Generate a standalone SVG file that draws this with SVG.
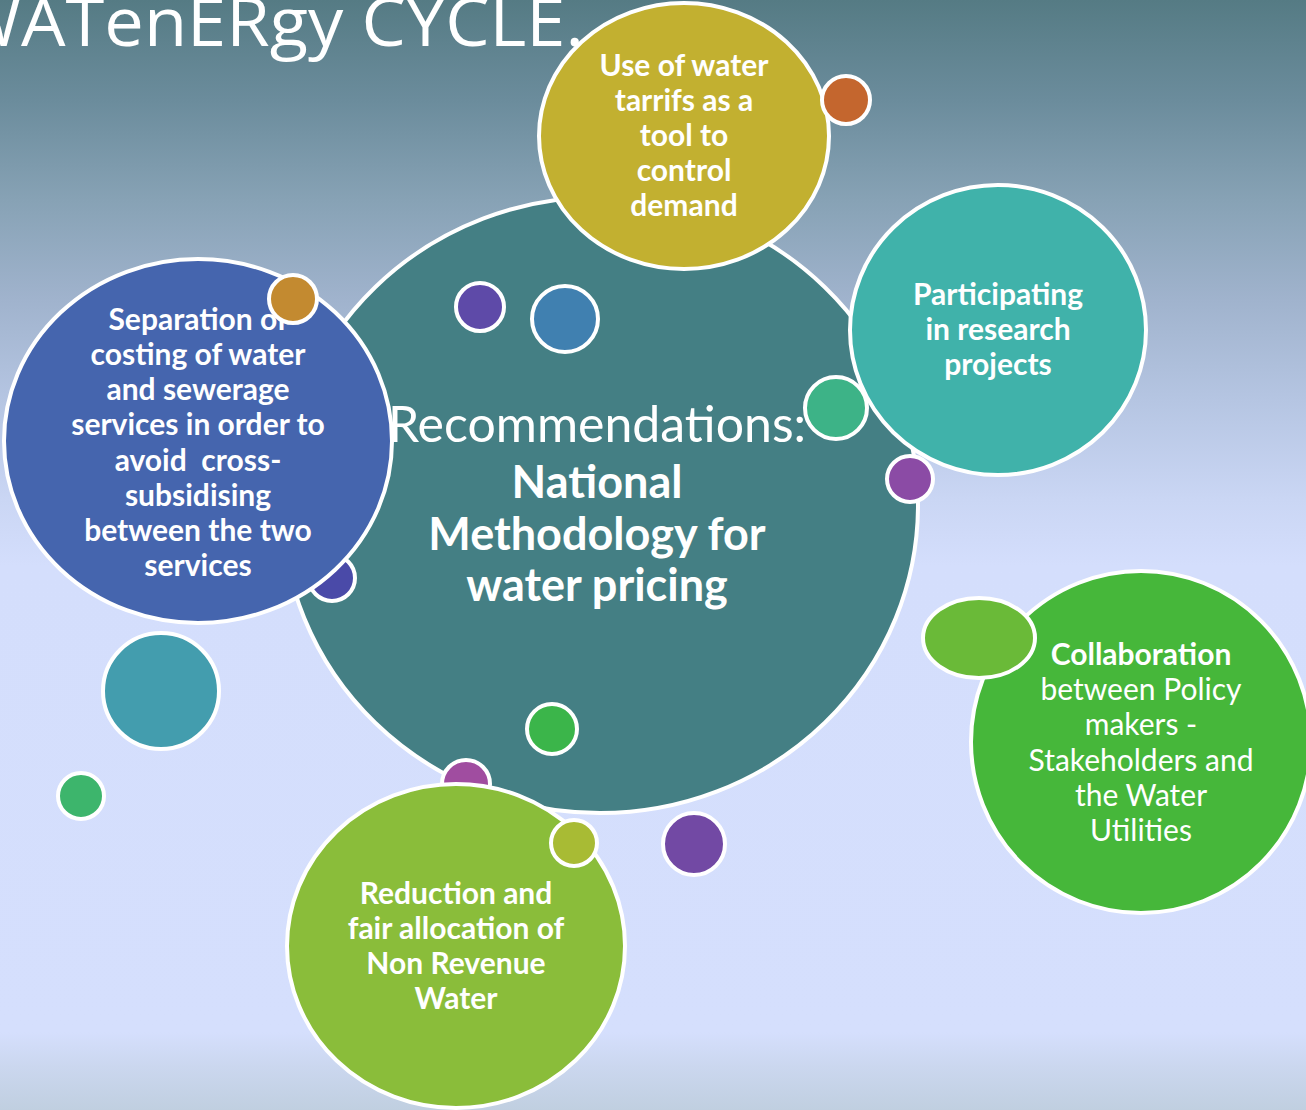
<svg xmlns="http://www.w3.org/2000/svg" width="1306" height="1110" viewBox="0 0 1306 1110">
  <defs>
    <linearGradient id="bg" x1="0" y1="0" x2="0" y2="1110" gradientUnits="userSpaceOnUse">
      <stop offset="0" stop-color="#557b84"/>
      <stop offset="0.09" stop-color="#6b8c9c"/>
      <stop offset="0.18" stop-color="#87a2b5"/>
      <stop offset="0.27" stop-color="#a0b3cd"/>
      <stop offset="0.36" stop-color="#b5c5e2"/>
      <stop offset="0.45" stop-color="#cad6f4"/>
      <stop offset="0.51" stop-color="#d4defc"/>
      <stop offset="0.93" stop-color="#d5dffd"/>
      <stop offset="0.96" stop-color="#cbd7ef"/>
      <stop offset="1" stop-color="#c0cfe0"/>
    </linearGradient>
  </defs>
  <style>
    .bub { stroke: #ffffff; stroke-width: 4; }
    .lbl { font-family: Lato, "Open Sans", "Liberation Sans", sans-serif; font-size: 30px; font-weight: bold; fill: #ffffff; text-anchor: middle; }
    .reg { font-weight: normal; }
    .title { font-family: "Open Sans", Lato, "Liberation Sans", sans-serif; font-size: 68px; fill: #ffffff; }
    .big { font-family: Lato, "Open Sans", "Liberation Sans", sans-serif; fill: #ffffff; text-anchor: middle; }
  </style>

  <rect x="0" y="0" width="1306" height="1110" fill="url(#bg)"/>

  <text class="title" x="-44" y="46" textLength="628" lengthAdjust="spacingAndGlyphs">WATenERgy CYCLE.</text>

  <!-- central node -->
  <g id="center">
    <ellipse class="bub" cx="600" cy="505" rx="318" ry="308" fill="#447f84"/>
    <text class="big" x="597" y="442" font-size="50">Recommendations:</text>
    <text class="big" x="597" y="498" font-size="45" font-weight="bold">National</text>
    <text class="big" x="597" y="550" font-size="45" font-weight="bold">Methodology for</text>
    <text class="big" x="597" y="601" font-size="45" font-weight="bold">water pricing</text>
  </g>

  <!-- decorative dots on the central node -->
  <g id="dots-center">
    <circle class="bub" cx="480" cy="307" r="24" fill="#5e4aa8"/>
    <circle class="bub" cx="565" cy="319" r="33" fill="#4080b0"/>
    <circle class="bub" cx="332" cy="578" r="23" fill="#4a4aa8"/>
    <circle class="bub" cx="552" cy="729" r="25" fill="#3bb54a"/>
    <circle class="bub" cx="466" cy="784" r="24" fill="#a04da0"/>
  </g>

  <g id="tariffs">
    <ellipse class="bub" cx="684" cy="136" rx="145" ry="133" fill="#c2b030"/>
    <text class="lbl" x="684" y="76">Use of water</text>
    <text class="lbl" x="684" y="111">tarrifs as a</text>
    <text class="lbl" x="684" y="146">tool to</text>
    <text class="lbl" x="684" y="181">control</text>
    <text class="lbl" x="684" y="216">demand</text>
    <circle class="bub" cx="846" cy="100" r="24" fill="#c4662e"/>
  </g>

  <g id="research">
    <ellipse class="bub" cx="998" cy="330" rx="148" ry="145" fill="#40b2aa"/>
    <text class="lbl" x="998" y="305">Participating</text>
    <text class="lbl" x="998" y="340">in research</text>
    <text class="lbl" x="998" y="375">projects</text>
    <circle class="bub" cx="836" cy="408" r="31" fill="#3db387"/>
    <circle class="bub" cx="910" cy="479" r="23" fill="#8b4ba5"/>
  </g>

  <g id="separation">
    <ellipse class="bub" cx="198" cy="441" rx="194" ry="182" fill="#4565ae"/>
    <text class="lbl" x="198" y="330">Separation of</text>
    <text class="lbl" x="198" y="365">costing of water</text>
    <text class="lbl" x="198" y="400">and sewerage</text>
    <text class="lbl" x="198" y="435">services in order to</text>
    <text class="lbl" x="198" y="471" xml:space="preserve">avoid  cross-</text>
    <text class="lbl" x="198" y="506">subsidising</text>
    <text class="lbl" x="198" y="541">between the two</text>
    <text class="lbl" x="198" y="576">services</text>
    <circle class="bub" cx="293" cy="299" r="24" fill="#c38a30"/>
  </g>

  <g id="dots-left">
    <circle class="bub" cx="161" cy="691" r="58" fill="#439dae"/>
    <circle class="bub" cx="81" cy="796" r="23" fill="#3db56c"/>
  </g>

  <g id="nrw">
    <ellipse class="bub" cx="456" cy="946" rx="169" ry="162" fill="#8abd3a"/>
    <text class="lbl" x="456" y="904">Reduction and</text>
    <text class="lbl" x="456" y="939">fair allocation of</text>
    <text class="lbl" x="456" y="974">Non Revenue</text>
    <text class="lbl" x="456" y="1009">Water</text>
    <circle class="bub" cx="574" cy="843" r="23" fill="#a8bb34"/>
  </g>

  <g id="dot-bottom">
    <circle class="bub" cx="694" cy="844" r="31" fill="#7249a4"/>
  </g>

  <g id="collaboration">
    <ellipse class="bub" cx="1141" cy="742" rx="170" ry="171" fill="#46b73a"/>
    <text class="lbl" x="1141" y="665">Collaboration</text>
    <text class="lbl reg" x="1141" y="700">between Policy</text>
    <text class="lbl reg" x="1141" y="735">makers -</text>
    <text class="lbl reg" x="1141" y="771">Stakeholders and</text>
    <text class="lbl reg" x="1141" y="806">the Water</text>
    <text class="lbl reg" x="1141" y="841">Utilities</text>
    <ellipse class="bub" cx="979" cy="638" rx="56" ry="40" fill="#6aba38"/>
  </g>
</svg>
